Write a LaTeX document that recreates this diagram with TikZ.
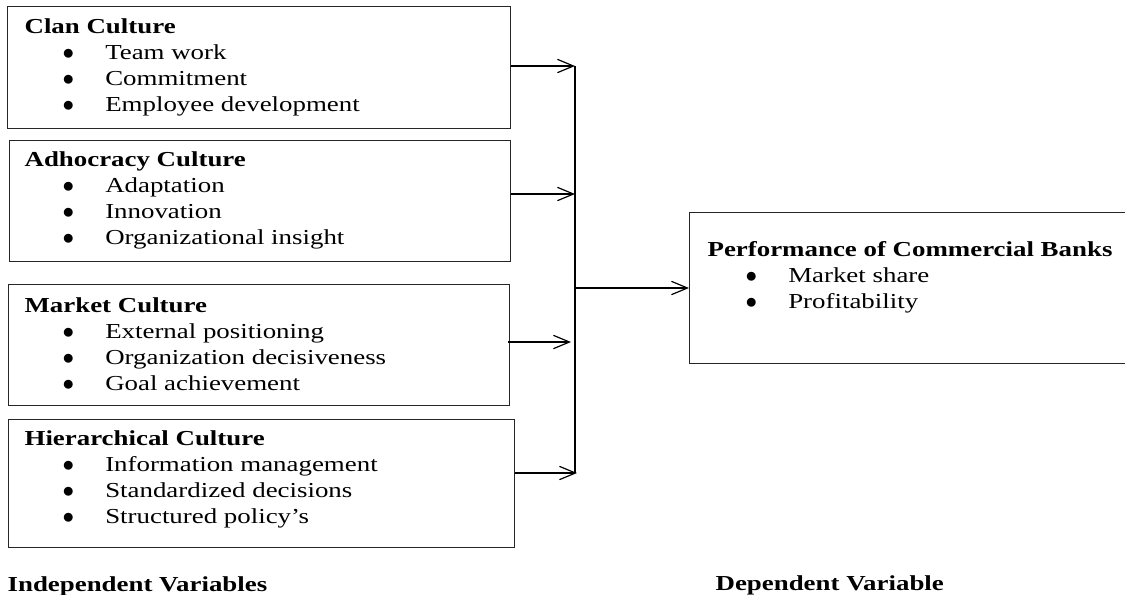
\documentclass[tikz,border=0pt]{standalone}
\usepackage{fontspec}
\setmainfont[FakeStretch=1.26]{Liberation Serif}
\usetikzlibrary{arrows.meta, positioning}
\newcommand{\itm}[1]{\hspace*{28.5pt}\makebox[32pt][l]{\fontsize{17pt}{0pt}\selectfont$\bullet$}#1}

\begin{document}
\begin{tikzpicture}[x=0.75pt, y=-0.75pt, >={Straight Barb[length=12pt,width=10pt]}, line width=0.9pt,
    box/.style={draw=black!85, anchor=north west, inner sep=0pt},
    txt/.style={anchor=base west, align=left, inner sep=0pt, font=\fontsize{16pt}{19.5pt}\selectfont},
    lbl/.style={anchor=base west, inner sep=0pt, font=\fontsize{16pt}{18pt}\selectfont\bfseries}]
      \clip (0,0) rectangle (1125,594);
      % independent variables
      \node[box, minimum width=377.25pt, minimum height=91.5pt] (clan) at (7,6) {};
      \node[box, minimum width=375.75pt, minimum height=90.75pt] (adhoc) at (9,140) {};
      \node[box, minimum width=375.75pt, minimum height=90.75pt] (market) at (8,284) {};
      \node[box, minimum width=379.5pt, minimum height=96pt] (hier) at (8,419) {};
      % base anchor sits on the last line
      \node[txt] (clantxt) at ([shift={(17,105)}]clan.north west) {\textbf{Clan Culture}\\ \itm{Team work}\\ \itm{Commitment}\\ \itm{Employee development}};
      \node[txt] (adhoctxt) at ([shift={(15,104)}]adhoc.north west) {\textbf{Adhocracy Culture}\\ \itm{Adaptation}\\ \itm{Innovation}\\ \itm{Organizational insight}};
      \node[txt] (markettxt) at ([shift={(16,106)}]market.north west) {\textbf{Market Culture}\\ \itm{External positioning}\\ \itm{Organization decisiveness}\\ \itm{Goal achievement}};
      \node[txt] (hiertxt) at ([shift={(16,104)}]hier.north west) {\textbf{Hierarchical Culture}\\ \itm{Information management}\\ \itm{Standardized decisions}\\ \itm{Structured policy’s}};
      % dependent variable
      \node[box, minimum width=333.75pt, minimum height=113.25pt] (perf) at (689,212) {};
      \node[txt] (perftxt) at ([shift={(18,96)}]perf.north west) {\textbf{Performance of Commercial Banks}\\ \itm{Market share}\\ \itm{Profitability}};
      % connectors
      \coordinate (j1) at (575,66);
      \coordinate (j2) at (575,194);
      \coordinate (j3) at (571,342);
      \coordinate (j4) at (577,473);
      \coordinate (jm) at (575,288);
      \draw[->] (clan.east |- j1) -- (j1);
      \draw[->] (adhoc.east |- j2) -- (j2);
      \draw[->] ([xshift=-1.5pt]market.east |- j3) -- (j3);
      \draw[->] (hier.east |- j4) -- (j4);
      \draw (j1) -- (575,473);
      \draw[->] (jm) -- (perf.west |- jm);
      % captions
      \node[lbl] (indep) at (7,591) {Independent Variables};
      \node[lbl] (dep) at (715,590) {Dependent Variable};
    \end{tikzpicture}
\end{document}
